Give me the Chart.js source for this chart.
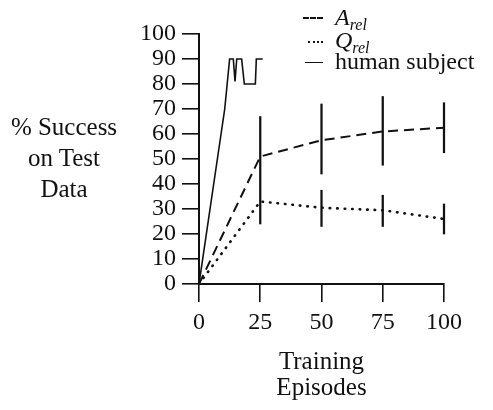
<!DOCTYPE html>
<html>
<head>
<meta charset="utf-8">
<script src="https://cdn.jsdelivr.net/npm/chart.js@4"></script>
<style>
  body { margin: 0; background: #fff; }
  #wrap { position: relative; width: 493px; height: 410px; font-family: "Liberation Serif", serif; color: #111; }
  #chart { position: absolute; left: 0; top: 0; }
  .ytitle { position: absolute; left: 4px; top: 111px; width: 120px; text-align: center; font-size: 25px; line-height: 31px; }
  .leg { position: absolute; left: 300px; font-size: 24px; line-height: 24px; white-space: nowrap; }
  .leg .sym { position: absolute; left: 0; top: 0; width: 30px; height: 24px; }
  .leg .txt { position: absolute; left: 35px; top: 0; }
  .leg i sub { font-size: 16px; vertical-align: -5px; line-height: 0; }
</style>
</head>
<body>
<div id="wrap">
  <canvas id="chart" width="493" height="410"></canvas>

  <div class="ytitle">% Success<br>on Test<br>Data</div>

  <!-- Legend -->
  <div class="leg" style="top:5px">
    <span class="sym"><span style="position:absolute;left:3px;top:12px;width:20px;border-top:2px dashed #111"></span></span>
    <span class="txt"><i>A<sub>rel</sub></i></span>
  </div>
  <div class="leg" style="top:28px">
    <span class="sym"><span style="position:absolute;left:8px;top:13px;width:15px;border-top:2.5px dotted #111"></span></span>
    <span class="txt"><i>Q<sub>rel</sub></i></span>
  </div>
  <div class="leg" style="top:49px">
    <span class="sym"><span style="position:absolute;left:5px;top:13px;width:18px;border-top:1.6px solid #111"></span></span>
    <span class="txt">human subject</span>
  </div>
</div>

<script>
// Data
const episodes = [0, 25, 50, 75, 100];
const aRel  = [0, 51, 57.5, 61, 62.5];
const aLow  = [null, 24, 44, 47.5, 52.5];
const aHigh = [null, 67, 72, 75, 72.5];
const qRel  = [0, 33, 30.5, 29.5, 26];
const qLow  = [null, null, 23, 23, 20];
const qHigh = [null, null, 37.5, 35.5, 32];
const humanX = [0, 10.5, 12.5, 14, 14.7, 15.4, 17.4, 18.5, 23, 23.4, 26];
const humanY = [0, 70, 90, 90, 81, 90, 90, 80, 80, 90, 90];
const yTicks = [0, 10, 20, 30, 40, 50, 60, 70, 80, 90, 100];
const xTicks = [0, 25, 50, 75, 100];

const INK = '#111';
const FONT = 'Liberation Serif';

const pts = (xs, ys) => xs.map((x, i) => ({ x, y: ys[i] }));
const bars = (lo, hi) => episodes
  .map((x, i) => lo[i] == null ? null : { x, y: [lo[i], hi[i]] })
  .filter(Boolean);

const lineBase = { pointRadius: 0, tension: 0, fill: false, borderColor: INK };
const barBase = { type: 'bar', backgroundColor: INK, borderWidth: 0, barThickness: 1.6, grouped: false, clip: false };

new Chart(document.getElementById('chart'), {
  type: 'line',
  data: {
    datasets: [
      { ...lineBase, label: 'A_rel', data: pts(episodes, aRel), borderWidth: 2, borderDash: [10, 6] },
      { ...lineBase, label: 'Q_rel', data: pts(episodes, qRel), borderWidth: 2.6, borderDash: [0.5, 7], borderCapStyle: 'round' },
      { ...lineBase, label: 'human subject', data: pts(humanX, humanY), borderWidth: 1.6 },
      { ...barBase, label: 'A_rel err', data: bars(aLow, aHigh) },
      { ...barBase, label: 'Q_rel err', data: bars(qLow, qHigh) },
    ]
  },
  options: {
    responsive: false,
    animation: false,
    devicePixelRatio: 1,
    layout: { padding: { left: 0, right: 49, top: 34, bottom: 0 } },
    plugins: { legend: { display: false }, tooltip: { enabled: false } },
    scales: {
      x: {
        type: 'linear', min: 0, max: 100, offset: false,
        afterBuildTicks: s => { s.ticks = xTicks.map(v => ({ value: v })); },
        afterFit: s => { s.height = 126; },
        grid: { offset: false, drawOnChartArea: false, drawTicks: true, tickLength: 18, color: INK, lineWidth: 1.6 },
        border: { display: true, color: INK, width: 2 },
        ticks: { color: INK, padding: 6, maxRotation: 0, autoSkip: false, font: { family: FONT, size: 24 } },
        title: {
          display: true, text: ['Training', 'Episodes'], color: INK,
          font: { family: FONT, size: 25, lineHeight: 1.05 },
          padding: { top: 0, bottom: 8 }
        }
      },
      y: {
        min: 0, max: 100,
        afterBuildTicks: s => { s.ticks = yTicks.map(v => ({ value: v })); },
        afterFit: s => { s.width = 199; },
        grid: { drawOnChartArea: false, drawTicks: true, tickLength: 17, color: INK, lineWidth: 1.6 },
        border: { display: true, color: INK, width: 2 },
        ticks: { color: INK, padding: 6, autoSkip: false, font: { family: FONT, size: 24 } }
      }
    }
  }
});
</script>
</body>
</html>
